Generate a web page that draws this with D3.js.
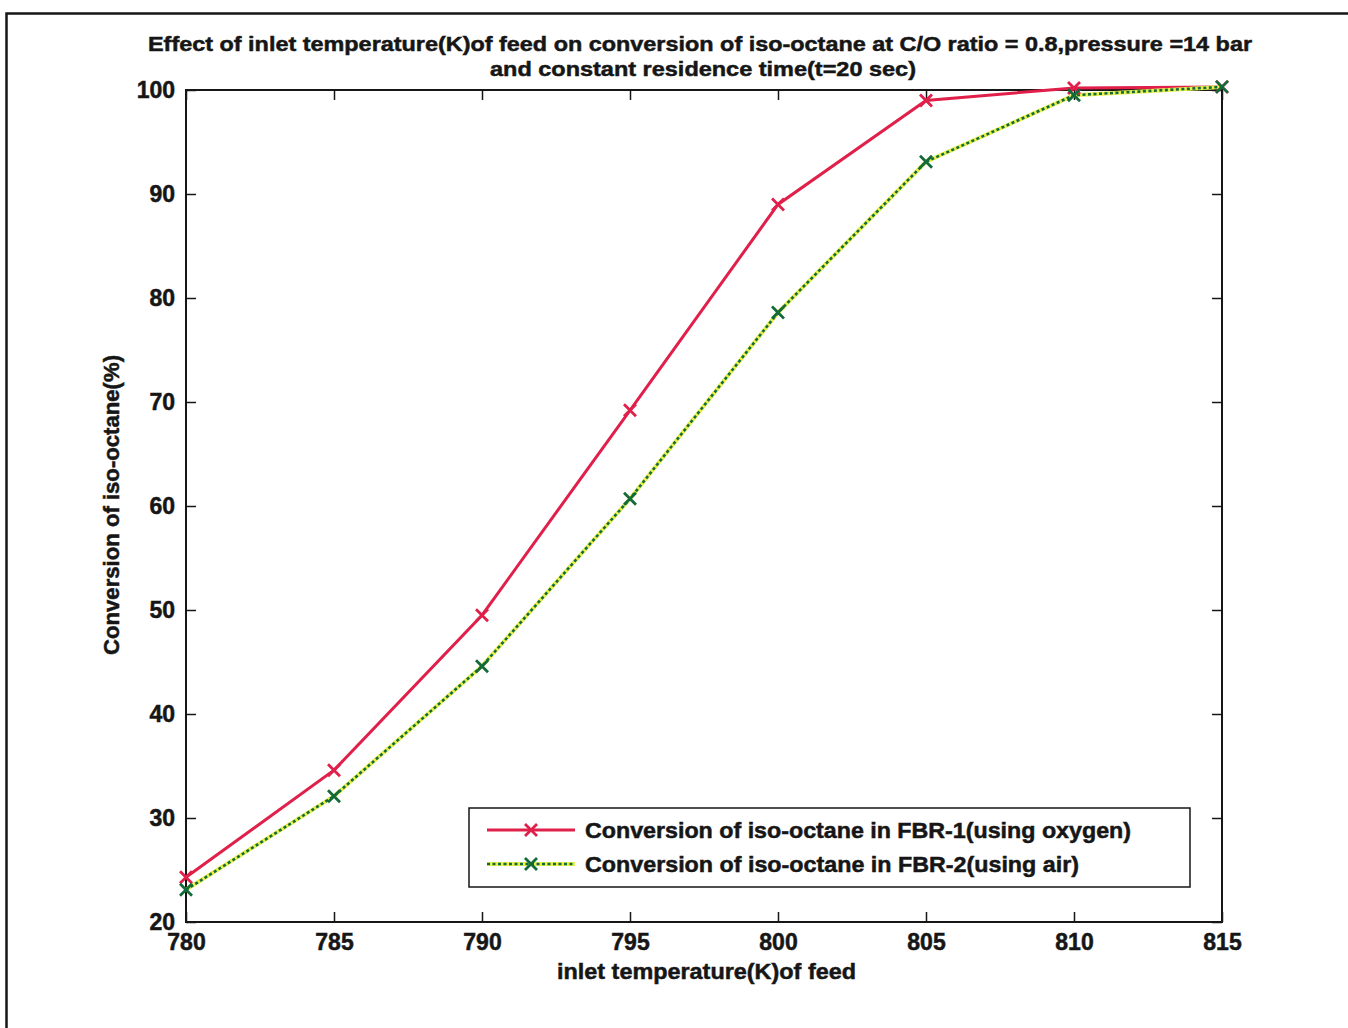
<!DOCTYPE html>
<html><head><meta charset="utf-8">
<script src="https://cdn.jsdelivr.net/npm/d3@7/dist/d3.min.js"></script>
<style>body{margin:0;background:#fff}svg{display:block;font-family:"Liberation Sans",Arial,sans-serif;font-weight:bold}</style>
</head><body><svg id="c" width="1348" height="1028"></svg>
<script>
const temps = [780, 785, 790, 795, 800, 805, 810, 815];
const fbr1 = [24.3, 34.6, 49.5, 69.2, 89.0, 99.0, 100.2, 100.3];
const fbr2 = [23.1, 32.1, 44.6, 60.7, 78.6, 93.1, 99.5, 100.3];
const xTicks = [780, 785, 790, 795, 800, 805, 810, 815];
const yTicks = [20, 30, 40, 50, 60, 70, 80, 90, 100];
const seriesNames = ["Conversion of iso-octane in FBR-1(using oxygen)", "Conversion of iso-octane in FBR-2(using air)"];
const titleLines = ["Effect of inlet temperature(K)of feed on conversion of iso-octane at C/O ratio = 0.8,pressure =14 bar", "and constant residence time(t=20 sec)"];

const svg = d3.select("#c");
const L = 186, R = 1222, T = 90, B = 922;
const x = d3.scaleLinear().domain([780, 815]).range([L, R]);
const y = d3.scaleLinear().domain([20, 100]).range([B, T]);
const ink = "#161616";

svg.append("rect").attr("x", 6.5).attr("y", 13.5).attr("width", 1400).attr("height", 1100)
  .attr("fill", "none").attr("stroke", ink).attr("stroke-width", 2.5);

function styleText(sel, size) {
  sel.attr("font-size", size).attr("font-weight", "bold").attr("fill", ink)
    .attr("stroke", ink).attr("stroke-width", 0.5).attr("font-family", "Liberation Sans, Arial");
}
const fs = 23;
svg.append("g").attr("transform", `translate(0,${B})`)
  .call(d3.axisBottom(x).tickValues(xTicks).tickSizeInner(-10).tickSizeOuter(0).tickPadding(12).tickFormat(d3.format("d")))
  .call(g => { g.select(".domain").remove(); styleText(g.selectAll("text"), fs); g.selectAll("line").attr("stroke", ink).attr("stroke-width", 1.5); });
svg.append("g").attr("transform", `translate(0,${T})`)
  .call(d3.axisTop(x).tickValues(xTicks).tickSizeInner(-10).tickSizeOuter(0).tickFormat(""))
  .call(g => { g.select(".domain").remove(); g.selectAll("line").attr("stroke", ink).attr("stroke-width", 1.5); });
svg.append("g").attr("transform", `translate(${L},0)`)
  .call(d3.axisLeft(y).tickValues(yTicks).tickSizeInner(-10).tickSizeOuter(0).tickPadding(11).tickFormat(d3.format("d")))
  .call(g => { g.select(".domain").remove(); styleText(g.selectAll("text"), fs); g.selectAll("line").attr("stroke", ink).attr("stroke-width", 1.5); });
svg.append("g").attr("transform", `translate(${R},0)`)
  .call(d3.axisRight(y).tickValues(yTicks).tickSizeInner(-10).tickSizeOuter(0).tickFormat(""))
  .call(g => { g.select(".domain").remove(); g.selectAll("line").attr("stroke", ink).attr("stroke-width", 1.5); });

svg.append("rect").attr("x", L).attr("y", T).attr("width", R - L).attr("height", B - T)
  .attr("fill", "none").attr("stroke", ink).attr("stroke-width", 2);

const line = d3.line().x((d, i) => x(temps[i])).y(d => y(d));
svg.append("path").datum(fbr1).attr("d", line).attr("fill", "none").attr("stroke", "#e0204a").attr("stroke-width", 3);
svg.append("path").datum(fbr2).attr("d", line).attr("fill", "none").attr("stroke", "#e8f050").attr("stroke-width", 4);
svg.append("path").datum(fbr2).attr("d", line).attr("fill", "none").attr("stroke", "#136b3a").attr("stroke-width", 2.6).attr("stroke-dasharray", "3,2.5");

function marker(g, cx, cy, color) {
  const s = 6;
  g.append("path").attr("d", `M${cx - s},${cy - s}L${cx + s},${cy + s}M${cx - s},${cy + s}L${cx + s},${cy - s}`)
    .attr("stroke", color).attr("stroke-width", 2.8).attr("fill", "none");
}
const mk = svg.append("g");
fbr1.forEach((v, i) => marker(mk, x(temps[i]), y(v), "#e0204a"));
fbr2.forEach((v, i) => marker(mk, x(temps[i]), y(v), "#136b3a"));

const lg = svg.append("g");
lg.append("rect").attr("x", 469).attr("y", 808).attr("width", 721).attr("height", 79).attr("fill", "#fff").attr("stroke", ink).attr("stroke-width", 1.5);
const rows = [830, 864];
lg.append("line").attr("x1", 487).attr("x2", 575).attr("y1", rows[0]).attr("y2", rows[0]).attr("stroke", "#e0204a").attr("stroke-width", 3);
marker(lg, 531, rows[0], "#e0204a");
lg.append("line").attr("x1", 487).attr("x2", 575).attr("y1", rows[1]).attr("y2", rows[1]).attr("stroke", "#e8f050").attr("stroke-width", 4);
lg.append("line").attr("x1", 487).attr("x2", 575).attr("y1", rows[1]).attr("y2", rows[1]).attr("stroke", "#136b3a").attr("stroke-width", 2.6).attr("stroke-dasharray", "3,2.5");
marker(lg, 531, rows[1], "#136b3a");
const legW = [546, 494];
seriesNames.forEach((n, i) => {
  const t = lg.append("text").attr("x", 585).attr("y", rows[i] + 8).attr("textLength", legW[i]).attr("lengthAdjust", "spacingAndGlyphs").text(n);
  styleText(t, 22);
});

styleText(svg.append("text").attr("x", 148).attr("y", 51).attr("textLength", 1104).attr("lengthAdjust", "spacingAndGlyphs").text(titleLines[0]), 21);
styleText(svg.append("text").attr("x", 490).attr("y", 76).attr("textLength", 426).attr("lengthAdjust", "spacingAndGlyphs").text(titleLines[1]), 21);
styleText(svg.append("text").attr("x", 557).attr("y", 979).attr("textLength", 299).attr("lengthAdjust", "spacingAndGlyphs").text("inlet temperature(K)of feed"), 22);
styleText(svg.append("text").attr("transform", "translate(119,655) rotate(-90)").attr("textLength", 300).attr("lengthAdjust", "spacingAndGlyphs").text("Conversion of iso-octane(%)"), 22);
</script></body></html>
